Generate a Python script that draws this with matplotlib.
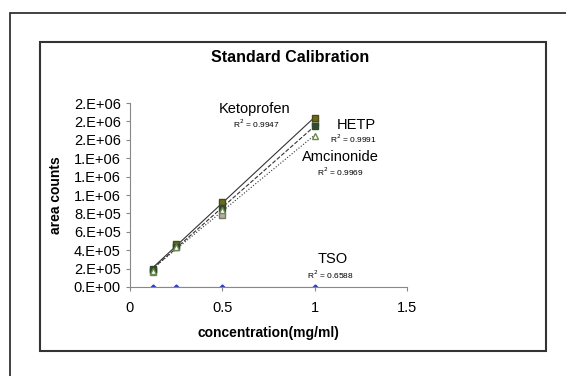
import numpy as np
import matplotlib.pyplot as plt
from matplotlib.patches import Rectangle

plt.rcParams['font.family'] = ['Liberation Sans', 'DejaVu Sans']

# concentrations (mg/ml)
conc = [0.125, 0.25, 0.5, 1.0]

# area counts
keto = [190000, 470000, 920000, 1840000]
hetp = [200000, 430000, 860000, 1750000]
amci = [170000, 440000, 840000, 1640000]
keto_rep = [160000, 450000, 780000, 1780000]
tso = [2000, 2000, 1500, 5000]

yticks = [0, 200000, 400000, 600000, 800000, 1000000, 1200000, 1400000, 1600000, 1800000, 2000000]
ylabels = ['0.E+00', '2.E+05', '4.E+05', '6.E+05', '8.E+05', '1.E+06', '1.E+06', '1.E+06', '2.E+06', '2.E+06', '2.E+06']
xticks = [0, 0.5, 1, 1.5]
xlabels = ['0', '0.5', '1', '1.5']

fig = plt.figure(figsize=(5.66, 3.76), dpi=100)

# outer and inner frames
W, H = 566, 376
fig.patches.append(Rectangle((10 / W, -0.1), 1.2, 1 - 13 / H + 0.1, transform=fig.transFigure,
                             fill=False, edgecolor='#333333', linewidth=1.3))
fig.patches.append(Rectangle((40 / W, 1 - 351 / H), (546 - 40) / W, (351 - 42) / H,
                             transform=fig.transFigure, fill=False, edgecolor='#333333', linewidth=1.5))

ax = fig.add_axes([130 / W, 1 - 287 / H, (407 - 130) / W, (287 - 103) / H])
ax.set_xlim(0, 1.5)
ax.set_ylim(0, 2000000)

# trendlines
x_fit = np.array([conc[0], conc[-1]])
for ys, ls in [(keto, '-'), (hetp, '--'), (amci, ':')]:
    m, b = np.polyfit(conc, ys, 1)
    ax.plot(x_fit, m * x_fit + b, color='#333333', linestyle=ls, linewidth=0.8)

ax.plot(conc, keto_rep, 's', color='#b0b0a0', markersize=5, markeredgecolor='#777766')
ax.plot(conc, keto, 's', color='#6b6b1e', markersize=5, markeredgecolor='#4a4a10')
ax.plot(conc, hetp, 's', color='#2f4a2f', markersize=4.5)
ax.plot(conc, amci, '^', color='white', markeredgecolor='#6a8a4a', markersize=4)
ax.plot(conc, tso, 'D', color='#2b3cc0', markersize=2.5)
ax.plot([conc[0], conc[-1]], [0, 0], color='#8888aa', linewidth=0.8)

for s in ['top', 'right']:
    ax.spines[s].set_visible(False)
for s in ['left', 'bottom']:
    ax.spines[s].set_color('#888888')
    ax.spines[s].set_linewidth(0.8)

ax.set_yticks(yticks)
ax.set_yticklabels(ylabels, fontsize=10.5)
ax.set_xticks(xticks)
ax.set_xticklabels(xlabels, fontsize=10.5)
ax.tick_params(axis='both', color='#888888', length=3, width=0.8)
ax.tick_params(axis='x', pad=7)

ax.set_ylabel('area counts', fontsize=10, fontweight='bold', labelpad=8)
ax.set_xlabel('concentration(mg/ml)', fontsize=10, fontweight='bold', labelpad=8)

fig.text(290 / W, 1 - 57 / H, 'Standard Calibration', ha='center', va='center',
         fontsize=11.5, fontweight='bold')

# series labels with R² values
labels = [('Ketoprofen', 255, 109, 'R$^2$ = 0.9947', 256, 124),
          ('HETP', 356, 125, 'R$^2$ = 0.9991', 353, 139),
          ('Amcinonide', 340, 157, 'R$^2$ = 0.9969', 340, 172),
          ('TSO', 333, 259, 'R$^2$ = 0.6588', 330, 275)]
for name, nx, ny, r2, rx, ry in labels:
    fig.text(nx / W, 1 - ny / H, name, ha='center', va='center', fontsize=10.5)
    fig.text(rx / W, 1 - ry / H, r2, ha='center', va='center', fontsize=6)

fig.savefig('out.png', dpi=100)
